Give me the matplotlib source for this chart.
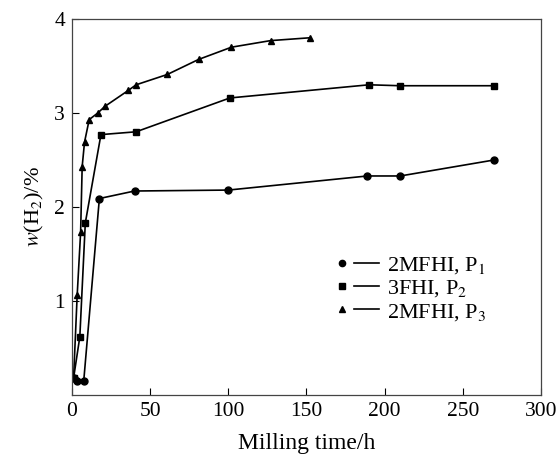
import matplotlib
matplotlib.use('Agg')
import matplotlib.pyplot as plt
import matplotlib as mpl
from matplotlib.lines import Line2D
from matplotlib.legend_handler import HandlerTuple

mpl.rcParams['font.family'] = 'Liberation Serif'
mpl.rcParams['mathtext.fontset'] = 'stix'

# Data
p1_t = [1, 3.5, 7.5, 17.5, 40, 100, 189, 210, 270]
p1_w = [0.18, 0.15, 0.15, 2.09, 2.17, 2.18, 2.33, 2.33, 2.50]

p2_t = [1, 5, 8.5, 18.5, 41, 101, 190, 210, 270]
p2_w = [0.18, 0.62, 1.83, 2.77, 2.80, 3.16, 3.30, 3.29, 3.29]

p3_t = [1, 3.3, 5.5, 6.5, 8, 11, 16.5, 21, 36, 41, 61, 81, 102, 127, 152]
p3_w = [0.18, 1.06, 1.73, 2.43, 2.69, 2.93, 3.00, 3.07, 3.24, 3.30, 3.41, 3.57, 3.70, 3.77, 3.80]

labels = ['2MFHI, P$_1$', '3FHI, P$_2$', '2MFHI, P$_3$']
x_ticks = [0, 50, 100, 150, 200, 250, 300]
y_ticks = [1, 2, 3, 4]

fig = plt.figure(figsize=(5.6, 4.61), dpi=100)
ax = fig.add_axes([0.1286, 0.1432, 0.8374, 0.8156])

lw = 1.2
ax.plot(p1_t, p1_w, '-', color='black', lw=lw, marker='o', ms=5)
ax.plot(p2_t, p2_w, '-', color='black', lw=lw, marker='s', ms=5)
ax.plot(p3_t, p3_w, '-', color='black', lw=lw, marker='^', ms=5)

ax.set_xlim(0, 300)
ax.set_ylim(0, 4)
ax.set_xticks(x_ticks)
ax.set_yticks(y_ticks)
ax.tick_params(direction='in', length=5, width=0.8, labelsize=15.5, pad=5)
for s in ax.spines.values():
    s.set_linewidth(0.9)
    s.set_color('#444444')

ax.set_xlabel('Milling time/h', fontsize=17, labelpad=9)
ax.set_ylabel('$w$(H$_2$)/%', fontsize=16, labelpad=6)

handles = []
for m in ['o', 's', '^']:
    mk = Line2D([], [], ls='none', marker=m, color='black', ms=4.5)
    ln = Line2D([], [], ls='-', color='black', lw=1.2)
    handles.append((mk, ln))
ax.legend(handles, labels, handler_map={tuple: HandlerTuple(ndivide=None, pad=0)},
          loc='upper left', bbox_to_anchor=(0.55, 0.372), frameon=False,
          fontsize=16, handlelength=2.2, handletextpad=0.36, labelspacing=0.1,
          borderpad=0, borderaxespad=0)

fig.savefig('out.png', dpi=100)
